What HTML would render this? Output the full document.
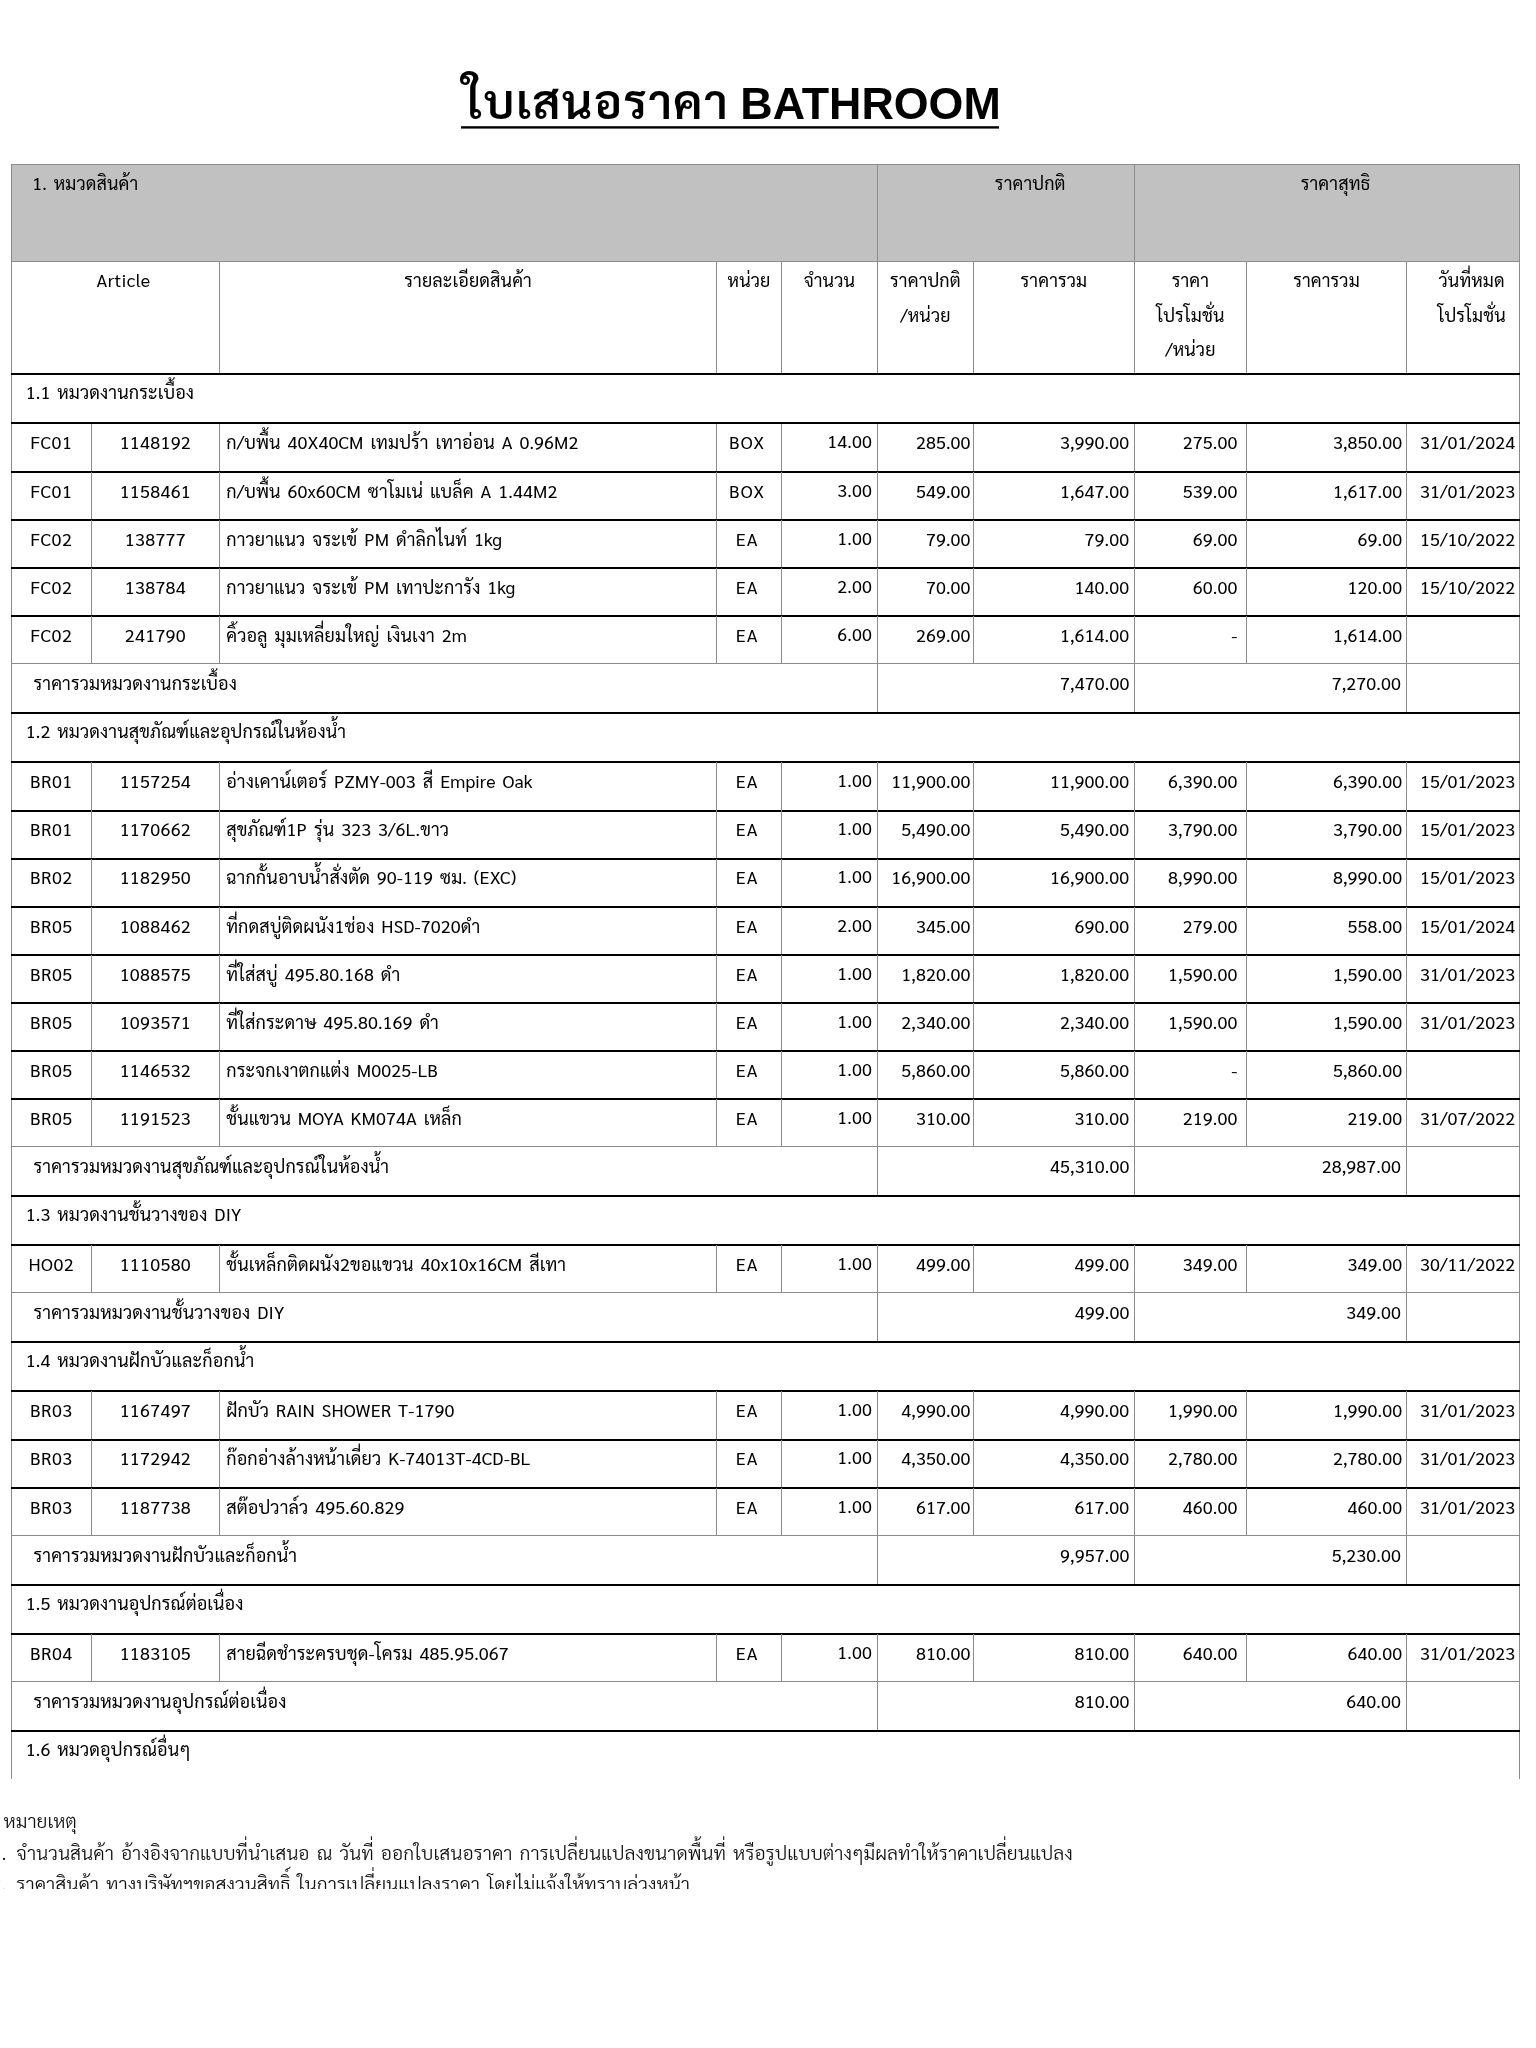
<!DOCTYPE html>
<html lang="th"><head><meta charset="utf-8"><title>ใบเสนอราคา BATHROOM</title>
<style>
html,body{margin:0;padding:0;background:#fff;}
body{will-change:transform;width:1536px;height:2048px;position:relative;overflow:hidden;font-family:"Sarabun","Liberation Sans","Loma","Noto Sans Thai",sans-serif;color:#000;}
.page{position:absolute;left:0;top:0;width:1536px;height:1779.4px;overflow:hidden;}
.l{position:absolute;}
.t{position:absolute;box-sizing:border-box;white-space:nowrap;word-spacing:2.4px;letter-spacing:0.1px;font-size:18.0px;line-height:24px;height:24px;overflow:visible;}
.ten{position:absolute;white-space:nowrap;font-family:"Liberation Sans",sans-serif;font-weight:bold;font-size:44.8px;line-height:60px;height:60px;}
.tth{position:absolute;white-space:nowrap;font-family:"Sarabun","Loma","Liberation Sans",sans-serif;font-weight:600;font-size:47.5px;letter-spacing:1.3px;line-height:70px;height:70px;}
.note{position:absolute;left:-5.8px;white-space:nowrap;font-weight:300;font-size:19.2px;line-height:26px;color:#111;word-spacing:2.4px;}
.note .n{margin-left:-3px;margin-right:3px;}
.notes{position:absolute;left:0;top:1790px;width:1536px;height:98.5px;overflow:hidden;}
</style></head><body>

<div class="page">
<div class="l" style="left:11.5px;top:165.0px;width:1507.7px;height:96.2px;background:#c1c1c1"></div>
<div class="l" style="left:11px;top:164px;width:1509px;height:1px;background:#8c8c8c"></div>
<div class="l" style="left:11px;top:261px;width:1509px;height:1px;background:#8c8c8c"></div>
<div class="l" style="left:877px;top:165px;width:1px;height:96px;background:#8c8c8c"></div>
<div class="l" style="left:1134px;top:165px;width:1px;height:96px;background:#8c8c8c"></div>
<div class="l" style="left:11px;top:165px;width:1px;height:1614px;background:#8c8c8c"></div>
<div class="l" style="left:1519px;top:165px;width:1px;height:1614px;background:#8c8c8c"></div>
<div class="l" style="left:219px;top:261px;width:1px;height:113px;background:#8c8c8c"></div>
<div class="l" style="left:716px;top:261px;width:1px;height:113px;background:#8c8c8c"></div>
<div class="l" style="left:781px;top:261px;width:1px;height:113px;background:#8c8c8c"></div>
<div class="l" style="left:877px;top:261px;width:1px;height:113px;background:#8c8c8c"></div>
<div class="l" style="left:973px;top:261px;width:1px;height:113px;background:#8c8c8c"></div>
<div class="l" style="left:1134px;top:261px;width:1px;height:113px;background:#8c8c8c"></div>
<div class="l" style="left:1246px;top:261px;width:1px;height:113px;background:#8c8c8c"></div>
<div class="l" style="left:1406px;top:261px;width:1px;height:113px;background:#8c8c8c"></div>
<div class="t " style="left:11.5px;top:171px;width:866.0px;text-align:left;padding-left:20.7px;">1. หมวดสินค้า</div>
<div class="t " style="left:926.1px;top:171px;width:208.3px;text-align:center;">ราคาปกติ</div>
<div class="t " style="left:1152.0px;top:171px;width:367.2px;text-align:center;">ราคาสุทธิ</div>
<div class="t " style="left:27.5px;top:268px;width:192.1px;text-align:center;letter-spacing:0.50px;">Article</div>
<div class="t " style="left:219.6px;top:268px;width:497.0px;text-align:center;">รายละเอียดสินค้า</div>
<div class="t " style="left:716.6px;top:268px;width:64.8px;text-align:center;">หน่วย</div>
<div class="t " style="left:781.4px;top:268px;width:96.1px;text-align:center;">จำนวน</div>
<div class="t " style="left:877.5px;top:268px;width:95.9px;text-align:center;">ราคาปกติ</div>
<div class="t " style="left:877.5px;top:303px;width:95.9px;text-align:center;">/หน่วย</div>
<div class="t " style="left:973.4px;top:268px;width:161.0px;text-align:center;">ราคารวม</div>
<div class="t " style="left:1134.4px;top:268px;width:112.0px;text-align:center;">ราคา</div>
<div class="t " style="left:1134.4px;top:303px;width:112.0px;text-align:center;">โปรโมชั่น</div>
<div class="t " style="left:1134.4px;top:337px;width:112.0px;text-align:center;">/หน่วย</div>
<div class="t " style="left:1246.4px;top:268px;width:160.2px;text-align:center;">ราคารวม</div>
<div class="t " style="left:1424.1px;top:268px;width:95.1px;text-align:center;">วันที่หมด</div>
<div class="t " style="left:1424.1px;top:303px;width:95.1px;text-align:center;">โปรโมชั่น</div>
<div class="l" style="left:11px;top:373px;width:1509px;height:2px;background:#000"></div>
<div class="t " style="left:11.5px;top:380px;width:1507.7px;text-align:left;padding-left:14.3px;">1.1 หมวดงานกระเบื้อง</div>
<div class="l" style="left:11px;top:422px;width:1509px;height:2px;background:#000"></div>
<div class="l" style="left:91px;top:424px;width:1px;height:48px;background:#8c8c8c"></div>
<div class="l" style="left:219px;top:424px;width:1px;height:48px;background:#8c8c8c"></div>
<div class="l" style="left:716px;top:424px;width:1px;height:48px;background:#8c8c8c"></div>
<div class="l" style="left:781px;top:424px;width:1px;height:48px;background:#8c8c8c"></div>
<div class="l" style="left:877px;top:424px;width:1px;height:48px;background:#8c8c8c"></div>
<div class="l" style="left:973px;top:424px;width:1px;height:48px;background:#8c8c8c"></div>
<div class="l" style="left:1134px;top:424px;width:1px;height:48px;background:#8c8c8c"></div>
<div class="l" style="left:1246px;top:424px;width:1px;height:48px;background:#8c8c8c"></div>
<div class="l" style="left:1406px;top:424px;width:1px;height:48px;background:#8c8c8c"></div>
<div class="t " style="left:11.1px;top:430px;width:80.4px;text-align:center;letter-spacing:0.45px;">FC01</div>
<div class="t " style="left:91.2px;top:430px;width:128.4px;text-align:center;letter-spacing:0.30px;">1148192</div>
<div class="t " style="left:219.6px;top:430px;width:497.0px;text-align:left;padding-left:6.6px;">ก/บพื้น 40X40CM เทมปร้า เทาอ่อน A 0.96M2</div>
<div class="t " style="left:716.6px;top:430px;width:61.2px;text-align:center;letter-spacing:1.20px;">BOX</div>
<div class="t " style="left:781.4px;top:429px;width:96.1px;text-align:right;padding-right:5.6px;">14.00</div>
<div class="t " style="left:877.5px;top:430px;width:95.9px;text-align:right;padding-right:2.8px;">285.00</div>
<div class="t " style="left:973.4px;top:430px;width:161.0px;text-align:right;padding-right:5.2px;">3,990.00</div>
<div class="t " style="left:1134.4px;top:430px;width:112.0px;text-align:right;padding-right:9.0px;">275.00</div>
<div class="t " style="left:1246.4px;top:430px;width:160.2px;text-align:right;padding-right:4.4px;">3,850.00</div>
<div class="t " style="left:1406.6px;top:430px;width:112.6px;text-align:right;padding-right:4.0px;">31/01/2024</div>
<div class="l" style="left:11px;top:471px;width:1509px;height:2px;background:#000"></div>
<div class="l" style="left:91px;top:472px;width:1px;height:48px;background:#8c8c8c"></div>
<div class="l" style="left:219px;top:472px;width:1px;height:48px;background:#8c8c8c"></div>
<div class="l" style="left:716px;top:472px;width:1px;height:48px;background:#8c8c8c"></div>
<div class="l" style="left:781px;top:472px;width:1px;height:48px;background:#8c8c8c"></div>
<div class="l" style="left:877px;top:472px;width:1px;height:48px;background:#8c8c8c"></div>
<div class="l" style="left:973px;top:472px;width:1px;height:48px;background:#8c8c8c"></div>
<div class="l" style="left:1134px;top:472px;width:1px;height:48px;background:#8c8c8c"></div>
<div class="l" style="left:1246px;top:472px;width:1px;height:48px;background:#8c8c8c"></div>
<div class="l" style="left:1406px;top:472px;width:1px;height:48px;background:#8c8c8c"></div>
<div class="t " style="left:11.1px;top:479px;width:80.4px;text-align:center;letter-spacing:0.45px;">FC01</div>
<div class="t " style="left:91.2px;top:479px;width:128.4px;text-align:center;letter-spacing:0.30px;">1158461</div>
<div class="t " style="left:219.6px;top:479px;width:497.0px;text-align:left;padding-left:6.6px;">ก/บพื้น 60x60CM ซาโมเน่ แบล็ค A 1.44M2</div>
<div class="t " style="left:716.6px;top:479px;width:61.2px;text-align:center;letter-spacing:1.20px;">BOX</div>
<div class="t " style="left:781.4px;top:478px;width:96.1px;text-align:right;padding-right:5.6px;">3.00</div>
<div class="t " style="left:877.5px;top:479px;width:95.9px;text-align:right;padding-right:2.8px;">549.00</div>
<div class="t " style="left:973.4px;top:479px;width:161.0px;text-align:right;padding-right:5.2px;">1,647.00</div>
<div class="t " style="left:1134.4px;top:479px;width:112.0px;text-align:right;padding-right:9.0px;">539.00</div>
<div class="t " style="left:1246.4px;top:479px;width:160.2px;text-align:right;padding-right:4.4px;">1,617.00</div>
<div class="t " style="left:1406.6px;top:479px;width:112.6px;text-align:right;padding-right:4.0px;">31/01/2023</div>
<div class="l" style="left:11px;top:519px;width:1509px;height:2px;background:#000"></div>
<div class="l" style="left:91px;top:520px;width:1px;height:48px;background:#8c8c8c"></div>
<div class="l" style="left:219px;top:520px;width:1px;height:48px;background:#8c8c8c"></div>
<div class="l" style="left:716px;top:520px;width:1px;height:48px;background:#8c8c8c"></div>
<div class="l" style="left:781px;top:520px;width:1px;height:48px;background:#8c8c8c"></div>
<div class="l" style="left:877px;top:520px;width:1px;height:48px;background:#8c8c8c"></div>
<div class="l" style="left:973px;top:520px;width:1px;height:48px;background:#8c8c8c"></div>
<div class="l" style="left:1134px;top:520px;width:1px;height:48px;background:#8c8c8c"></div>
<div class="l" style="left:1246px;top:520px;width:1px;height:48px;background:#8c8c8c"></div>
<div class="l" style="left:1406px;top:520px;width:1px;height:48px;background:#8c8c8c"></div>
<div class="t " style="left:11.1px;top:527px;width:80.4px;text-align:center;letter-spacing:0.45px;">FC02</div>
<div class="t " style="left:91.2px;top:527px;width:128.4px;text-align:center;letter-spacing:0.30px;">138777</div>
<div class="t " style="left:219.6px;top:527px;width:497.0px;text-align:left;padding-left:6.6px;">กาวยาแนว จระเข้ PM ดำลิกไนท์ 1kg</div>
<div class="t " style="left:716.6px;top:527px;width:61.2px;text-align:center;letter-spacing:1.20px;">EA</div>
<div class="t " style="left:781.4px;top:526px;width:96.1px;text-align:right;padding-right:5.6px;">1.00</div>
<div class="t " style="left:877.5px;top:527px;width:95.9px;text-align:right;padding-right:2.8px;">79.00</div>
<div class="t " style="left:973.4px;top:527px;width:161.0px;text-align:right;padding-right:5.2px;">79.00</div>
<div class="t " style="left:1134.4px;top:527px;width:112.0px;text-align:right;padding-right:9.0px;">69.00</div>
<div class="t " style="left:1246.4px;top:527px;width:160.2px;text-align:right;padding-right:4.4px;">69.00</div>
<div class="t " style="left:1406.6px;top:527px;width:112.6px;text-align:right;padding-right:4.0px;">15/10/2022</div>
<div class="l" style="left:11px;top:567px;width:1509px;height:2px;background:#000"></div>
<div class="l" style="left:91px;top:568px;width:1px;height:48px;background:#8c8c8c"></div>
<div class="l" style="left:219px;top:568px;width:1px;height:48px;background:#8c8c8c"></div>
<div class="l" style="left:716px;top:568px;width:1px;height:48px;background:#8c8c8c"></div>
<div class="l" style="left:781px;top:568px;width:1px;height:48px;background:#8c8c8c"></div>
<div class="l" style="left:877px;top:568px;width:1px;height:48px;background:#8c8c8c"></div>
<div class="l" style="left:973px;top:568px;width:1px;height:48px;background:#8c8c8c"></div>
<div class="l" style="left:1134px;top:568px;width:1px;height:48px;background:#8c8c8c"></div>
<div class="l" style="left:1246px;top:568px;width:1px;height:48px;background:#8c8c8c"></div>
<div class="l" style="left:1406px;top:568px;width:1px;height:48px;background:#8c8c8c"></div>
<div class="t " style="left:11.1px;top:575px;width:80.4px;text-align:center;letter-spacing:0.45px;">FC02</div>
<div class="t " style="left:91.2px;top:575px;width:128.4px;text-align:center;letter-spacing:0.30px;">138784</div>
<div class="t " style="left:219.6px;top:575px;width:497.0px;text-align:left;padding-left:6.6px;">กาวยาแนว จระเข้ PM เทาปะการัง 1kg</div>
<div class="t " style="left:716.6px;top:575px;width:61.2px;text-align:center;letter-spacing:1.20px;">EA</div>
<div class="t " style="left:781.4px;top:574px;width:96.1px;text-align:right;padding-right:5.6px;">2.00</div>
<div class="t " style="left:877.5px;top:575px;width:95.9px;text-align:right;padding-right:2.8px;">70.00</div>
<div class="t " style="left:973.4px;top:575px;width:161.0px;text-align:right;padding-right:5.2px;">140.00</div>
<div class="t " style="left:1134.4px;top:575px;width:112.0px;text-align:right;padding-right:9.0px;">60.00</div>
<div class="t " style="left:1246.4px;top:575px;width:160.2px;text-align:right;padding-right:4.4px;">120.00</div>
<div class="t " style="left:1406.6px;top:575px;width:112.6px;text-align:right;padding-right:4.0px;">15/10/2022</div>
<div class="l" style="left:11px;top:615px;width:1509px;height:2px;background:#000"></div>
<div class="l" style="left:91px;top:616px;width:1px;height:48px;background:#8c8c8c"></div>
<div class="l" style="left:219px;top:616px;width:1px;height:48px;background:#8c8c8c"></div>
<div class="l" style="left:716px;top:616px;width:1px;height:48px;background:#8c8c8c"></div>
<div class="l" style="left:781px;top:616px;width:1px;height:48px;background:#8c8c8c"></div>
<div class="l" style="left:877px;top:616px;width:1px;height:48px;background:#8c8c8c"></div>
<div class="l" style="left:973px;top:616px;width:1px;height:48px;background:#8c8c8c"></div>
<div class="l" style="left:1134px;top:616px;width:1px;height:48px;background:#8c8c8c"></div>
<div class="l" style="left:1246px;top:616px;width:1px;height:48px;background:#8c8c8c"></div>
<div class="l" style="left:1406px;top:616px;width:1px;height:48px;background:#8c8c8c"></div>
<div class="t " style="left:11.1px;top:623px;width:80.4px;text-align:center;letter-spacing:0.45px;">FC02</div>
<div class="t " style="left:91.2px;top:623px;width:128.4px;text-align:center;letter-spacing:0.30px;">241790</div>
<div class="t " style="left:219.6px;top:623px;width:497.0px;text-align:left;padding-left:6.6px;">คิ้วอลู มุมเหลี่ยมใหญ่ เงินเงา 2m</div>
<div class="t " style="left:716.6px;top:623px;width:61.2px;text-align:center;letter-spacing:1.20px;">EA</div>
<div class="t " style="left:781.4px;top:622px;width:96.1px;text-align:right;padding-right:5.6px;">6.00</div>
<div class="t " style="left:877.5px;top:623px;width:95.9px;text-align:right;padding-right:2.8px;">269.00</div>
<div class="t " style="left:973.4px;top:623px;width:161.0px;text-align:right;padding-right:5.2px;">1,614.00</div>
<div class="t " style="left:1134.4px;top:623px;width:112.0px;text-align:right;padding-right:9.0px;">-</div>
<div class="t " style="left:1246.4px;top:623px;width:160.2px;text-align:right;padding-right:4.4px;">1,614.00</div>
<div class="t " style="left:1406.6px;top:623px;width:112.6px;text-align:right;padding-right:4.0px;"></div>
<div class="l" style="left:11px;top:663px;width:1509px;height:1px;background:#8c8c8c"></div>
<div class="l" style="left:877px;top:664px;width:1px;height:49px;background:#8c8c8c"></div>
<div class="l" style="left:1134px;top:664px;width:1px;height:49px;background:#8c8c8c"></div>
<div class="l" style="left:1406px;top:664px;width:1px;height:49px;background:#8c8c8c"></div>
<div class="t " style="left:11.5px;top:671px;width:866.0px;text-align:left;padding-left:22.0px;">ราคารวมหมวดงานกระเบื้อง</div>
<div class="t " style="left:877.5px;top:671px;width:256.9px;text-align:right;padding-right:5.0px;">7,470.00</div>
<div class="t " style="left:1134.4px;top:671px;width:272.2px;text-align:right;padding-right:5.6px;">7,270.00</div>
<div class="l" style="left:11px;top:712px;width:1509px;height:2px;background:#000"></div>
<div class="t " style="left:11.5px;top:719px;width:1507.7px;text-align:left;padding-left:14.3px;">1.2 หมวดงานสุขภัณฑ์และอุปกรณ์ในห้องน้ำ</div>
<div class="l" style="left:11px;top:761px;width:1509px;height:2px;background:#000"></div>
<div class="l" style="left:91px;top:762px;width:1px;height:48px;background:#8c8c8c"></div>
<div class="l" style="left:219px;top:762px;width:1px;height:48px;background:#8c8c8c"></div>
<div class="l" style="left:716px;top:762px;width:1px;height:48px;background:#8c8c8c"></div>
<div class="l" style="left:781px;top:762px;width:1px;height:48px;background:#8c8c8c"></div>
<div class="l" style="left:877px;top:762px;width:1px;height:48px;background:#8c8c8c"></div>
<div class="l" style="left:973px;top:762px;width:1px;height:48px;background:#8c8c8c"></div>
<div class="l" style="left:1134px;top:762px;width:1px;height:48px;background:#8c8c8c"></div>
<div class="l" style="left:1246px;top:762px;width:1px;height:48px;background:#8c8c8c"></div>
<div class="l" style="left:1406px;top:762px;width:1px;height:48px;background:#8c8c8c"></div>
<div class="t " style="left:11.1px;top:769px;width:80.4px;text-align:center;letter-spacing:0.45px;">BR01</div>
<div class="t " style="left:91.2px;top:769px;width:128.4px;text-align:center;letter-spacing:0.30px;">1157254</div>
<div class="t " style="left:219.6px;top:769px;width:497.0px;text-align:left;padding-left:6.6px;">อ่างเคาน์เตอร์ PZMY-003 สี Empire Oak</div>
<div class="t " style="left:716.6px;top:769px;width:61.2px;text-align:center;letter-spacing:1.20px;">EA</div>
<div class="t " style="left:781.4px;top:768px;width:96.1px;text-align:right;padding-right:5.6px;">1.00</div>
<div class="t " style="left:877.5px;top:769px;width:95.9px;text-align:right;padding-right:2.8px;">11,900.00</div>
<div class="t " style="left:973.4px;top:769px;width:161.0px;text-align:right;padding-right:5.2px;">11,900.00</div>
<div class="t " style="left:1134.4px;top:769px;width:112.0px;text-align:right;padding-right:9.0px;">6,390.00</div>
<div class="t " style="left:1246.4px;top:769px;width:160.2px;text-align:right;padding-right:4.4px;">6,390.00</div>
<div class="t " style="left:1406.6px;top:769px;width:112.6px;text-align:right;padding-right:4.0px;">15/01/2023</div>
<div class="l" style="left:11px;top:810px;width:1509px;height:2px;background:#000"></div>
<div class="l" style="left:91px;top:810px;width:1px;height:49px;background:#8c8c8c"></div>
<div class="l" style="left:219px;top:810px;width:1px;height:49px;background:#8c8c8c"></div>
<div class="l" style="left:716px;top:810px;width:1px;height:49px;background:#8c8c8c"></div>
<div class="l" style="left:781px;top:810px;width:1px;height:49px;background:#8c8c8c"></div>
<div class="l" style="left:877px;top:810px;width:1px;height:49px;background:#8c8c8c"></div>
<div class="l" style="left:973px;top:810px;width:1px;height:49px;background:#8c8c8c"></div>
<div class="l" style="left:1134px;top:810px;width:1px;height:49px;background:#8c8c8c"></div>
<div class="l" style="left:1246px;top:810px;width:1px;height:49px;background:#8c8c8c"></div>
<div class="l" style="left:1406px;top:810px;width:1px;height:49px;background:#8c8c8c"></div>
<div class="t " style="left:11.1px;top:817px;width:80.4px;text-align:center;letter-spacing:0.45px;">BR01</div>
<div class="t " style="left:91.2px;top:817px;width:128.4px;text-align:center;letter-spacing:0.30px;">1170662</div>
<div class="t " style="left:219.6px;top:817px;width:497.0px;text-align:left;padding-left:6.6px;">สุขภัณฑ์1P รุ่น 323 3/6L.ขาว</div>
<div class="t " style="left:716.6px;top:817px;width:61.2px;text-align:center;letter-spacing:1.20px;">EA</div>
<div class="t " style="left:781.4px;top:816px;width:96.1px;text-align:right;padding-right:5.6px;">1.00</div>
<div class="t " style="left:877.5px;top:817px;width:95.9px;text-align:right;padding-right:2.8px;">5,490.00</div>
<div class="t " style="left:973.4px;top:817px;width:161.0px;text-align:right;padding-right:5.2px;">5,490.00</div>
<div class="t " style="left:1134.4px;top:817px;width:112.0px;text-align:right;padding-right:9.0px;">3,790.00</div>
<div class="t " style="left:1246.4px;top:817px;width:160.2px;text-align:right;padding-right:4.4px;">3,790.00</div>
<div class="t " style="left:1406.6px;top:817px;width:112.6px;text-align:right;padding-right:4.0px;">15/01/2023</div>
<div class="l" style="left:11px;top:858px;width:1509px;height:2px;background:#000"></div>
<div class="l" style="left:91px;top:859px;width:1px;height:48px;background:#8c8c8c"></div>
<div class="l" style="left:219px;top:859px;width:1px;height:48px;background:#8c8c8c"></div>
<div class="l" style="left:716px;top:859px;width:1px;height:48px;background:#8c8c8c"></div>
<div class="l" style="left:781px;top:859px;width:1px;height:48px;background:#8c8c8c"></div>
<div class="l" style="left:877px;top:859px;width:1px;height:48px;background:#8c8c8c"></div>
<div class="l" style="left:973px;top:859px;width:1px;height:48px;background:#8c8c8c"></div>
<div class="l" style="left:1134px;top:859px;width:1px;height:48px;background:#8c8c8c"></div>
<div class="l" style="left:1246px;top:859px;width:1px;height:48px;background:#8c8c8c"></div>
<div class="l" style="left:1406px;top:859px;width:1px;height:48px;background:#8c8c8c"></div>
<div class="t " style="left:11.1px;top:865px;width:80.4px;text-align:center;letter-spacing:0.45px;">BR02</div>
<div class="t " style="left:91.2px;top:865px;width:128.4px;text-align:center;letter-spacing:0.30px;">1182950</div>
<div class="t " style="left:219.6px;top:865px;width:497.0px;text-align:left;padding-left:6.6px;">ฉากกั้นอาบน้ำสั่งตัด 90-119 ซม. (EXC)</div>
<div class="t " style="left:716.6px;top:865px;width:61.2px;text-align:center;letter-spacing:1.20px;">EA</div>
<div class="t " style="left:781.4px;top:864px;width:96.1px;text-align:right;padding-right:5.6px;">1.00</div>
<div class="t " style="left:877.5px;top:865px;width:95.9px;text-align:right;padding-right:2.8px;">16,900.00</div>
<div class="t " style="left:973.4px;top:865px;width:161.0px;text-align:right;padding-right:5.2px;">16,900.00</div>
<div class="t " style="left:1134.4px;top:865px;width:112.0px;text-align:right;padding-right:9.0px;">8,990.00</div>
<div class="t " style="left:1246.4px;top:865px;width:160.2px;text-align:right;padding-right:4.4px;">8,990.00</div>
<div class="t " style="left:1406.6px;top:865px;width:112.6px;text-align:right;padding-right:4.0px;">15/01/2023</div>
<div class="l" style="left:11px;top:906px;width:1509px;height:2px;background:#000"></div>
<div class="l" style="left:91px;top:907px;width:1px;height:48px;background:#8c8c8c"></div>
<div class="l" style="left:219px;top:907px;width:1px;height:48px;background:#8c8c8c"></div>
<div class="l" style="left:716px;top:907px;width:1px;height:48px;background:#8c8c8c"></div>
<div class="l" style="left:781px;top:907px;width:1px;height:48px;background:#8c8c8c"></div>
<div class="l" style="left:877px;top:907px;width:1px;height:48px;background:#8c8c8c"></div>
<div class="l" style="left:973px;top:907px;width:1px;height:48px;background:#8c8c8c"></div>
<div class="l" style="left:1134px;top:907px;width:1px;height:48px;background:#8c8c8c"></div>
<div class="l" style="left:1246px;top:907px;width:1px;height:48px;background:#8c8c8c"></div>
<div class="l" style="left:1406px;top:907px;width:1px;height:48px;background:#8c8c8c"></div>
<div class="t " style="left:11.1px;top:914px;width:80.4px;text-align:center;letter-spacing:0.45px;">BR05</div>
<div class="t " style="left:91.2px;top:914px;width:128.4px;text-align:center;letter-spacing:0.30px;">1088462</div>
<div class="t " style="left:219.6px;top:914px;width:497.0px;text-align:left;padding-left:6.6px;">ที่กดสบู่ติดผนัง1ช่อง HSD-7020ดำ</div>
<div class="t " style="left:716.6px;top:914px;width:61.2px;text-align:center;letter-spacing:1.20px;">EA</div>
<div class="t " style="left:781.4px;top:913px;width:96.1px;text-align:right;padding-right:5.6px;">2.00</div>
<div class="t " style="left:877.5px;top:914px;width:95.9px;text-align:right;padding-right:2.8px;">345.00</div>
<div class="t " style="left:973.4px;top:914px;width:161.0px;text-align:right;padding-right:5.2px;">690.00</div>
<div class="t " style="left:1134.4px;top:914px;width:112.0px;text-align:right;padding-right:9.0px;">279.00</div>
<div class="t " style="left:1246.4px;top:914px;width:160.2px;text-align:right;padding-right:4.4px;">558.00</div>
<div class="t " style="left:1406.6px;top:914px;width:112.6px;text-align:right;padding-right:4.0px;">15/01/2024</div>
<div class="l" style="left:11px;top:954px;width:1509px;height:2px;background:#000"></div>
<div class="l" style="left:91px;top:955px;width:1px;height:48px;background:#8c8c8c"></div>
<div class="l" style="left:219px;top:955px;width:1px;height:48px;background:#8c8c8c"></div>
<div class="l" style="left:716px;top:955px;width:1px;height:48px;background:#8c8c8c"></div>
<div class="l" style="left:781px;top:955px;width:1px;height:48px;background:#8c8c8c"></div>
<div class="l" style="left:877px;top:955px;width:1px;height:48px;background:#8c8c8c"></div>
<div class="l" style="left:973px;top:955px;width:1px;height:48px;background:#8c8c8c"></div>
<div class="l" style="left:1134px;top:955px;width:1px;height:48px;background:#8c8c8c"></div>
<div class="l" style="left:1246px;top:955px;width:1px;height:48px;background:#8c8c8c"></div>
<div class="l" style="left:1406px;top:955px;width:1px;height:48px;background:#8c8c8c"></div>
<div class="t " style="left:11.1px;top:962px;width:80.4px;text-align:center;letter-spacing:0.45px;">BR05</div>
<div class="t " style="left:91.2px;top:962px;width:128.4px;text-align:center;letter-spacing:0.30px;">1088575</div>
<div class="t " style="left:219.6px;top:962px;width:497.0px;text-align:left;padding-left:6.6px;">ที่ใส่สบู่ 495.80.168 ดำ</div>
<div class="t " style="left:716.6px;top:962px;width:61.2px;text-align:center;letter-spacing:1.20px;">EA</div>
<div class="t " style="left:781.4px;top:961px;width:96.1px;text-align:right;padding-right:5.6px;">1.00</div>
<div class="t " style="left:877.5px;top:962px;width:95.9px;text-align:right;padding-right:2.8px;">1,820.00</div>
<div class="t " style="left:973.4px;top:962px;width:161.0px;text-align:right;padding-right:5.2px;">1,820.00</div>
<div class="t " style="left:1134.4px;top:962px;width:112.0px;text-align:right;padding-right:9.0px;">1,590.00</div>
<div class="t " style="left:1246.4px;top:962px;width:160.2px;text-align:right;padding-right:4.4px;">1,590.00</div>
<div class="t " style="left:1406.6px;top:962px;width:112.6px;text-align:right;padding-right:4.0px;">31/01/2023</div>
<div class="l" style="left:11px;top:1002px;width:1509px;height:2px;background:#000"></div>
<div class="l" style="left:91px;top:1003px;width:1px;height:48px;background:#8c8c8c"></div>
<div class="l" style="left:219px;top:1003px;width:1px;height:48px;background:#8c8c8c"></div>
<div class="l" style="left:716px;top:1003px;width:1px;height:48px;background:#8c8c8c"></div>
<div class="l" style="left:781px;top:1003px;width:1px;height:48px;background:#8c8c8c"></div>
<div class="l" style="left:877px;top:1003px;width:1px;height:48px;background:#8c8c8c"></div>
<div class="l" style="left:973px;top:1003px;width:1px;height:48px;background:#8c8c8c"></div>
<div class="l" style="left:1134px;top:1003px;width:1px;height:48px;background:#8c8c8c"></div>
<div class="l" style="left:1246px;top:1003px;width:1px;height:48px;background:#8c8c8c"></div>
<div class="l" style="left:1406px;top:1003px;width:1px;height:48px;background:#8c8c8c"></div>
<div class="t " style="left:11.1px;top:1010px;width:80.4px;text-align:center;letter-spacing:0.45px;">BR05</div>
<div class="t " style="left:91.2px;top:1010px;width:128.4px;text-align:center;letter-spacing:0.30px;">1093571</div>
<div class="t " style="left:219.6px;top:1010px;width:497.0px;text-align:left;padding-left:6.6px;">ที่ใส่กระดาษ 495.80.169 ดำ</div>
<div class="t " style="left:716.6px;top:1010px;width:61.2px;text-align:center;letter-spacing:1.20px;">EA</div>
<div class="t " style="left:781.4px;top:1009px;width:96.1px;text-align:right;padding-right:5.6px;">1.00</div>
<div class="t " style="left:877.5px;top:1010px;width:95.9px;text-align:right;padding-right:2.8px;">2,340.00</div>
<div class="t " style="left:973.4px;top:1010px;width:161.0px;text-align:right;padding-right:5.2px;">2,340.00</div>
<div class="t " style="left:1134.4px;top:1010px;width:112.0px;text-align:right;padding-right:9.0px;">1,590.00</div>
<div class="t " style="left:1246.4px;top:1010px;width:160.2px;text-align:right;padding-right:4.4px;">1,590.00</div>
<div class="t " style="left:1406.6px;top:1010px;width:112.6px;text-align:right;padding-right:4.0px;">31/01/2023</div>
<div class="l" style="left:11px;top:1050px;width:1509px;height:2px;background:#000"></div>
<div class="l" style="left:91px;top:1051px;width:1px;height:48px;background:#8c8c8c"></div>
<div class="l" style="left:219px;top:1051px;width:1px;height:48px;background:#8c8c8c"></div>
<div class="l" style="left:716px;top:1051px;width:1px;height:48px;background:#8c8c8c"></div>
<div class="l" style="left:781px;top:1051px;width:1px;height:48px;background:#8c8c8c"></div>
<div class="l" style="left:877px;top:1051px;width:1px;height:48px;background:#8c8c8c"></div>
<div class="l" style="left:973px;top:1051px;width:1px;height:48px;background:#8c8c8c"></div>
<div class="l" style="left:1134px;top:1051px;width:1px;height:48px;background:#8c8c8c"></div>
<div class="l" style="left:1246px;top:1051px;width:1px;height:48px;background:#8c8c8c"></div>
<div class="l" style="left:1406px;top:1051px;width:1px;height:48px;background:#8c8c8c"></div>
<div class="t " style="left:11.1px;top:1058px;width:80.4px;text-align:center;letter-spacing:0.45px;">BR05</div>
<div class="t " style="left:91.2px;top:1058px;width:128.4px;text-align:center;letter-spacing:0.30px;">1146532</div>
<div class="t " style="left:219.6px;top:1058px;width:497.0px;text-align:left;padding-left:6.6px;">กระจกเงาตกแต่ง M0025-LB</div>
<div class="t " style="left:716.6px;top:1058px;width:61.2px;text-align:center;letter-spacing:1.20px;">EA</div>
<div class="t " style="left:781.4px;top:1057px;width:96.1px;text-align:right;padding-right:5.6px;">1.00</div>
<div class="t " style="left:877.5px;top:1058px;width:95.9px;text-align:right;padding-right:2.8px;">5,860.00</div>
<div class="t " style="left:973.4px;top:1058px;width:161.0px;text-align:right;padding-right:5.2px;">5,860.00</div>
<div class="t " style="left:1134.4px;top:1058px;width:112.0px;text-align:right;padding-right:9.0px;">-</div>
<div class="t " style="left:1246.4px;top:1058px;width:160.2px;text-align:right;padding-right:4.4px;">5,860.00</div>
<div class="t " style="left:1406.6px;top:1058px;width:112.6px;text-align:right;padding-right:4.0px;"></div>
<div class="l" style="left:11px;top:1098px;width:1509px;height:2px;background:#000"></div>
<div class="l" style="left:91px;top:1099px;width:1px;height:47px;background:#8c8c8c"></div>
<div class="l" style="left:219px;top:1099px;width:1px;height:47px;background:#8c8c8c"></div>
<div class="l" style="left:716px;top:1099px;width:1px;height:47px;background:#8c8c8c"></div>
<div class="l" style="left:781px;top:1099px;width:1px;height:47px;background:#8c8c8c"></div>
<div class="l" style="left:877px;top:1099px;width:1px;height:47px;background:#8c8c8c"></div>
<div class="l" style="left:973px;top:1099px;width:1px;height:47px;background:#8c8c8c"></div>
<div class="l" style="left:1134px;top:1099px;width:1px;height:47px;background:#8c8c8c"></div>
<div class="l" style="left:1246px;top:1099px;width:1px;height:47px;background:#8c8c8c"></div>
<div class="l" style="left:1406px;top:1099px;width:1px;height:47px;background:#8c8c8c"></div>
<div class="t " style="left:11.1px;top:1106px;width:80.4px;text-align:center;letter-spacing:0.45px;">BR05</div>
<div class="t " style="left:91.2px;top:1106px;width:128.4px;text-align:center;letter-spacing:0.30px;">1191523</div>
<div class="t " style="left:219.6px;top:1106px;width:497.0px;text-align:left;padding-left:6.6px;">ชั้นแขวน MOYA KM074A เหล็ก</div>
<div class="t " style="left:716.6px;top:1106px;width:61.2px;text-align:center;letter-spacing:1.20px;">EA</div>
<div class="t " style="left:781.4px;top:1105px;width:96.1px;text-align:right;padding-right:5.6px;">1.00</div>
<div class="t " style="left:877.5px;top:1106px;width:95.9px;text-align:right;padding-right:2.8px;">310.00</div>
<div class="t " style="left:973.4px;top:1106px;width:161.0px;text-align:right;padding-right:5.2px;">310.00</div>
<div class="t " style="left:1134.4px;top:1106px;width:112.0px;text-align:right;padding-right:9.0px;">219.00</div>
<div class="t " style="left:1246.4px;top:1106px;width:160.2px;text-align:right;padding-right:4.4px;">219.00</div>
<div class="t " style="left:1406.6px;top:1106px;width:112.6px;text-align:right;padding-right:4.0px;">31/07/2022</div>
<div class="l" style="left:11px;top:1146px;width:1509px;height:1px;background:#8c8c8c"></div>
<div class="l" style="left:877px;top:1146px;width:1px;height:50px;background:#8c8c8c"></div>
<div class="l" style="left:1134px;top:1146px;width:1px;height:50px;background:#8c8c8c"></div>
<div class="l" style="left:1406px;top:1146px;width:1px;height:50px;background:#8c8c8c"></div>
<div class="t " style="left:11.5px;top:1154px;width:866.0px;text-align:left;padding-left:22.0px;">ราคารวมหมวดงานสุขภัณฑ์และอุปกรณ์ในห้องน้ำ</div>
<div class="t " style="left:877.5px;top:1154px;width:256.9px;text-align:right;padding-right:5.0px;">45,310.00</div>
<div class="t " style="left:1134.4px;top:1154px;width:272.2px;text-align:right;padding-right:5.6px;">28,987.00</div>
<div class="l" style="left:11px;top:1195px;width:1509px;height:2px;background:#000"></div>
<div class="t " style="left:11.5px;top:1202px;width:1507.7px;text-align:left;padding-left:14.3px;">1.3 หมวดงานชั้นวางของ DIY</div>
<div class="l" style="left:11px;top:1244px;width:1509px;height:2px;background:#000"></div>
<div class="l" style="left:91px;top:1245px;width:1px;height:48px;background:#8c8c8c"></div>
<div class="l" style="left:219px;top:1245px;width:1px;height:48px;background:#8c8c8c"></div>
<div class="l" style="left:716px;top:1245px;width:1px;height:48px;background:#8c8c8c"></div>
<div class="l" style="left:781px;top:1245px;width:1px;height:48px;background:#8c8c8c"></div>
<div class="l" style="left:877px;top:1245px;width:1px;height:48px;background:#8c8c8c"></div>
<div class="l" style="left:973px;top:1245px;width:1px;height:48px;background:#8c8c8c"></div>
<div class="l" style="left:1134px;top:1245px;width:1px;height:48px;background:#8c8c8c"></div>
<div class="l" style="left:1246px;top:1245px;width:1px;height:48px;background:#8c8c8c"></div>
<div class="l" style="left:1406px;top:1245px;width:1px;height:48px;background:#8c8c8c"></div>
<div class="t " style="left:11.1px;top:1252px;width:80.4px;text-align:center;letter-spacing:0.45px;">HO02</div>
<div class="t " style="left:91.2px;top:1252px;width:128.4px;text-align:center;letter-spacing:0.30px;">1110580</div>
<div class="t " style="left:219.6px;top:1252px;width:497.0px;text-align:left;padding-left:6.6px;">ชั้นเหล็กติดผนัง2ขอแขวน 40x10x16CM สีเทา</div>
<div class="t " style="left:716.6px;top:1252px;width:61.2px;text-align:center;letter-spacing:1.20px;">EA</div>
<div class="t " style="left:781.4px;top:1251px;width:96.1px;text-align:right;padding-right:5.6px;">1.00</div>
<div class="t " style="left:877.5px;top:1252px;width:95.9px;text-align:right;padding-right:2.8px;">499.00</div>
<div class="t " style="left:973.4px;top:1252px;width:161.0px;text-align:right;padding-right:5.2px;">499.00</div>
<div class="t " style="left:1134.4px;top:1252px;width:112.0px;text-align:right;padding-right:9.0px;">349.00</div>
<div class="t " style="left:1246.4px;top:1252px;width:160.2px;text-align:right;padding-right:4.4px;">349.00</div>
<div class="t " style="left:1406.6px;top:1252px;width:112.6px;text-align:right;padding-right:4.0px;">30/11/2022</div>
<div class="l" style="left:11px;top:1292px;width:1509px;height:1px;background:#8c8c8c"></div>
<div class="l" style="left:877px;top:1293px;width:1px;height:49px;background:#8c8c8c"></div>
<div class="l" style="left:1134px;top:1293px;width:1px;height:49px;background:#8c8c8c"></div>
<div class="l" style="left:1406px;top:1293px;width:1px;height:49px;background:#8c8c8c"></div>
<div class="t " style="left:11.5px;top:1300px;width:866.0px;text-align:left;padding-left:22.0px;">ราคารวมหมวดงานชั้นวางของ DIY</div>
<div class="t " style="left:877.5px;top:1300px;width:256.9px;text-align:right;padding-right:5.0px;">499.00</div>
<div class="t " style="left:1134.4px;top:1300px;width:272.2px;text-align:right;padding-right:5.6px;">349.00</div>
<div class="l" style="left:11px;top:1341px;width:1509px;height:2px;background:#000"></div>
<div class="t " style="left:11.5px;top:1348px;width:1507.7px;text-align:left;padding-left:14.3px;">1.4 หมวดงานฝักบัวและก็อกน้ำ</div>
<div class="l" style="left:11px;top:1390px;width:1509px;height:2px;background:#000"></div>
<div class="l" style="left:91px;top:1391px;width:1px;height:49px;background:#8c8c8c"></div>
<div class="l" style="left:219px;top:1391px;width:1px;height:49px;background:#8c8c8c"></div>
<div class="l" style="left:716px;top:1391px;width:1px;height:49px;background:#8c8c8c"></div>
<div class="l" style="left:781px;top:1391px;width:1px;height:49px;background:#8c8c8c"></div>
<div class="l" style="left:877px;top:1391px;width:1px;height:49px;background:#8c8c8c"></div>
<div class="l" style="left:973px;top:1391px;width:1px;height:49px;background:#8c8c8c"></div>
<div class="l" style="left:1134px;top:1391px;width:1px;height:49px;background:#8c8c8c"></div>
<div class="l" style="left:1246px;top:1391px;width:1px;height:49px;background:#8c8c8c"></div>
<div class="l" style="left:1406px;top:1391px;width:1px;height:49px;background:#8c8c8c"></div>
<div class="t " style="left:11.1px;top:1398px;width:80.4px;text-align:center;letter-spacing:0.45px;">BR03</div>
<div class="t " style="left:91.2px;top:1398px;width:128.4px;text-align:center;letter-spacing:0.30px;">1167497</div>
<div class="t " style="left:219.6px;top:1398px;width:497.0px;text-align:left;padding-left:6.6px;">ฝักบัว RAIN SHOWER T-1790</div>
<div class="t " style="left:716.6px;top:1398px;width:61.2px;text-align:center;letter-spacing:1.20px;">EA</div>
<div class="t " style="left:781.4px;top:1397px;width:96.1px;text-align:right;padding-right:5.6px;">1.00</div>
<div class="t " style="left:877.5px;top:1398px;width:95.9px;text-align:right;padding-right:2.8px;">4,990.00</div>
<div class="t " style="left:973.4px;top:1398px;width:161.0px;text-align:right;padding-right:5.2px;">4,990.00</div>
<div class="t " style="left:1134.4px;top:1398px;width:112.0px;text-align:right;padding-right:9.0px;">1,990.00</div>
<div class="t " style="left:1246.4px;top:1398px;width:160.2px;text-align:right;padding-right:4.4px;">1,990.00</div>
<div class="t " style="left:1406.6px;top:1398px;width:112.6px;text-align:right;padding-right:4.0px;">31/01/2023</div>
<div class="l" style="left:11px;top:1439px;width:1509px;height:2px;background:#000"></div>
<div class="l" style="left:91px;top:1440px;width:1px;height:48px;background:#8c8c8c"></div>
<div class="l" style="left:219px;top:1440px;width:1px;height:48px;background:#8c8c8c"></div>
<div class="l" style="left:716px;top:1440px;width:1px;height:48px;background:#8c8c8c"></div>
<div class="l" style="left:781px;top:1440px;width:1px;height:48px;background:#8c8c8c"></div>
<div class="l" style="left:877px;top:1440px;width:1px;height:48px;background:#8c8c8c"></div>
<div class="l" style="left:973px;top:1440px;width:1px;height:48px;background:#8c8c8c"></div>
<div class="l" style="left:1134px;top:1440px;width:1px;height:48px;background:#8c8c8c"></div>
<div class="l" style="left:1246px;top:1440px;width:1px;height:48px;background:#8c8c8c"></div>
<div class="l" style="left:1406px;top:1440px;width:1px;height:48px;background:#8c8c8c"></div>
<div class="t " style="left:11.1px;top:1446px;width:80.4px;text-align:center;letter-spacing:0.45px;">BR03</div>
<div class="t " style="left:91.2px;top:1446px;width:128.4px;text-align:center;letter-spacing:0.30px;">1172942</div>
<div class="t " style="left:219.6px;top:1446px;width:497.0px;text-align:left;padding-left:6.6px;">ก๊อกอ่างล้างหน้าเดี่ยว K-74013T-4CD-BL</div>
<div class="t " style="left:716.6px;top:1446px;width:61.2px;text-align:center;letter-spacing:1.20px;">EA</div>
<div class="t " style="left:781.4px;top:1445px;width:96.1px;text-align:right;padding-right:5.6px;">1.00</div>
<div class="t " style="left:877.5px;top:1446px;width:95.9px;text-align:right;padding-right:2.8px;">4,350.00</div>
<div class="t " style="left:973.4px;top:1446px;width:161.0px;text-align:right;padding-right:5.2px;">4,350.00</div>
<div class="t " style="left:1134.4px;top:1446px;width:112.0px;text-align:right;padding-right:9.0px;">2,780.00</div>
<div class="t " style="left:1246.4px;top:1446px;width:160.2px;text-align:right;padding-right:4.4px;">2,780.00</div>
<div class="t " style="left:1406.6px;top:1446px;width:112.6px;text-align:right;padding-right:4.0px;">31/01/2023</div>
<div class="l" style="left:11px;top:1487px;width:1509px;height:2px;background:#000"></div>
<div class="l" style="left:91px;top:1488px;width:1px;height:47px;background:#8c8c8c"></div>
<div class="l" style="left:219px;top:1488px;width:1px;height:47px;background:#8c8c8c"></div>
<div class="l" style="left:716px;top:1488px;width:1px;height:47px;background:#8c8c8c"></div>
<div class="l" style="left:781px;top:1488px;width:1px;height:47px;background:#8c8c8c"></div>
<div class="l" style="left:877px;top:1488px;width:1px;height:47px;background:#8c8c8c"></div>
<div class="l" style="left:973px;top:1488px;width:1px;height:47px;background:#8c8c8c"></div>
<div class="l" style="left:1134px;top:1488px;width:1px;height:47px;background:#8c8c8c"></div>
<div class="l" style="left:1246px;top:1488px;width:1px;height:47px;background:#8c8c8c"></div>
<div class="l" style="left:1406px;top:1488px;width:1px;height:47px;background:#8c8c8c"></div>
<div class="t " style="left:11.1px;top:1495px;width:80.4px;text-align:center;letter-spacing:0.45px;">BR03</div>
<div class="t " style="left:91.2px;top:1495px;width:128.4px;text-align:center;letter-spacing:0.30px;">1187738</div>
<div class="t " style="left:219.6px;top:1495px;width:497.0px;text-align:left;padding-left:6.6px;">สต๊อปวาล์ว 495.60.829</div>
<div class="t " style="left:716.6px;top:1495px;width:61.2px;text-align:center;letter-spacing:1.20px;">EA</div>
<div class="t " style="left:781.4px;top:1494px;width:96.1px;text-align:right;padding-right:5.6px;">1.00</div>
<div class="t " style="left:877.5px;top:1495px;width:95.9px;text-align:right;padding-right:2.8px;">617.00</div>
<div class="t " style="left:973.4px;top:1495px;width:161.0px;text-align:right;padding-right:5.2px;">617.00</div>
<div class="t " style="left:1134.4px;top:1495px;width:112.0px;text-align:right;padding-right:9.0px;">460.00</div>
<div class="t " style="left:1246.4px;top:1495px;width:160.2px;text-align:right;padding-right:4.4px;">460.00</div>
<div class="t " style="left:1406.6px;top:1495px;width:112.6px;text-align:right;padding-right:4.0px;">31/01/2023</div>
<div class="l" style="left:11px;top:1535px;width:1509px;height:1px;background:#8c8c8c"></div>
<div class="l" style="left:877px;top:1535px;width:1px;height:50px;background:#8c8c8c"></div>
<div class="l" style="left:1134px;top:1535px;width:1px;height:50px;background:#8c8c8c"></div>
<div class="l" style="left:1406px;top:1535px;width:1px;height:50px;background:#8c8c8c"></div>
<div class="t " style="left:11.5px;top:1543px;width:866.0px;text-align:left;padding-left:22.0px;">ราคารวมหมวดงานฝักบัวและก็อกน้ำ</div>
<div class="t " style="left:877.5px;top:1543px;width:256.9px;text-align:right;padding-right:5.0px;">9,957.00</div>
<div class="t " style="left:1134.4px;top:1543px;width:272.2px;text-align:right;padding-right:5.6px;">5,230.00</div>
<div class="l" style="left:11px;top:1584px;width:1509px;height:2px;background:#000"></div>
<div class="t " style="left:11.5px;top:1591px;width:1507.7px;text-align:left;padding-left:14.3px;">1.5 หมวดงานอุปกรณ์ต่อเนื่อง</div>
<div class="l" style="left:11px;top:1633px;width:1509px;height:2px;background:#000"></div>
<div class="l" style="left:91px;top:1634px;width:1px;height:47px;background:#8c8c8c"></div>
<div class="l" style="left:219px;top:1634px;width:1px;height:47px;background:#8c8c8c"></div>
<div class="l" style="left:716px;top:1634px;width:1px;height:47px;background:#8c8c8c"></div>
<div class="l" style="left:781px;top:1634px;width:1px;height:47px;background:#8c8c8c"></div>
<div class="l" style="left:877px;top:1634px;width:1px;height:47px;background:#8c8c8c"></div>
<div class="l" style="left:973px;top:1634px;width:1px;height:47px;background:#8c8c8c"></div>
<div class="l" style="left:1134px;top:1634px;width:1px;height:47px;background:#8c8c8c"></div>
<div class="l" style="left:1246px;top:1634px;width:1px;height:47px;background:#8c8c8c"></div>
<div class="l" style="left:1406px;top:1634px;width:1px;height:47px;background:#8c8c8c"></div>
<div class="t " style="left:11.1px;top:1641px;width:80.4px;text-align:center;letter-spacing:0.45px;">BR04</div>
<div class="t " style="left:91.2px;top:1641px;width:128.4px;text-align:center;letter-spacing:0.30px;">1183105</div>
<div class="t " style="left:219.6px;top:1641px;width:497.0px;text-align:left;padding-left:6.6px;">สายฉีดชำระครบชุด-โครม 485.95.067</div>
<div class="t " style="left:716.6px;top:1641px;width:61.2px;text-align:center;letter-spacing:1.20px;">EA</div>
<div class="t " style="left:781.4px;top:1640px;width:96.1px;text-align:right;padding-right:5.6px;">1.00</div>
<div class="t " style="left:877.5px;top:1641px;width:95.9px;text-align:right;padding-right:2.8px;">810.00</div>
<div class="t " style="left:973.4px;top:1641px;width:161.0px;text-align:right;padding-right:5.2px;">810.00</div>
<div class="t " style="left:1134.4px;top:1641px;width:112.0px;text-align:right;padding-right:9.0px;">640.00</div>
<div class="t " style="left:1246.4px;top:1641px;width:160.2px;text-align:right;padding-right:4.4px;">640.00</div>
<div class="t " style="left:1406.6px;top:1641px;width:112.6px;text-align:right;padding-right:4.0px;">31/01/2023</div>
<div class="l" style="left:11px;top:1681px;width:1509px;height:1px;background:#8c8c8c"></div>
<div class="l" style="left:877px;top:1681px;width:1px;height:49px;background:#8c8c8c"></div>
<div class="l" style="left:1134px;top:1681px;width:1px;height:49px;background:#8c8c8c"></div>
<div class="l" style="left:1406px;top:1681px;width:1px;height:49px;background:#8c8c8c"></div>
<div class="t " style="left:11.5px;top:1689px;width:866.0px;text-align:left;padding-left:22.0px;">ราคารวมหมวดงานอุปกรณ์ต่อเนื่อง</div>
<div class="t " style="left:877.5px;top:1689px;width:256.9px;text-align:right;padding-right:5.0px;">810.00</div>
<div class="t " style="left:1134.4px;top:1689px;width:272.2px;text-align:right;padding-right:5.6px;">640.00</div>
<div class="l" style="left:11px;top:1730px;width:1509px;height:2px;background:#000"></div>
<div class="t " style="left:11.5px;top:1737px;width:1507.7px;text-align:left;padding-left:14.3px;">1.6 หมวดอุปกรณ์อื่นๆ</div>
</div>
<div class="tth" style="left:462.9px;top:63.74px">ใบเสนอราคา</div>
<div class="ten" style="left:740.3px;top:72.68px">BATHROOM</div>
<div class="l" style="left:461px;top:126px;width:538px;height:1px;background:#333"></div>
<div class="l" style="left:461px;top:127px;width:538px;height:1px;background:#000"></div>
<div class="l" style="left:461px;top:128px;width:538px;height:1px;background:#666"></div>
<div class="notes">
<div class="note" style="top:17px;left:3.6px">หมายเหตุ</div>
<div class="note" style="top:48.5px"><span class="n">1.</span> จำนวนสินค้า อ้างอิงจากแบบที่นำเสนอ ณ วันที่ ออกใบเสนอราคา การเปลี่ยนแปลงขนาดพื้นที่ หรือรูปแบบต่างๆมีผลทำให้ราคาเปลี่ยนแปลง</div>
<div class="note" style="top:80px"><span class="n">2.</span> ราคาสินค้า ทางบริษัทฯขอสงวนสิทธิ์ ในการเปลี่ยนแปลงราคา โดยไม่แจ้งให้ทราบล่วงหน้า</div>
</div>
</body></html>
